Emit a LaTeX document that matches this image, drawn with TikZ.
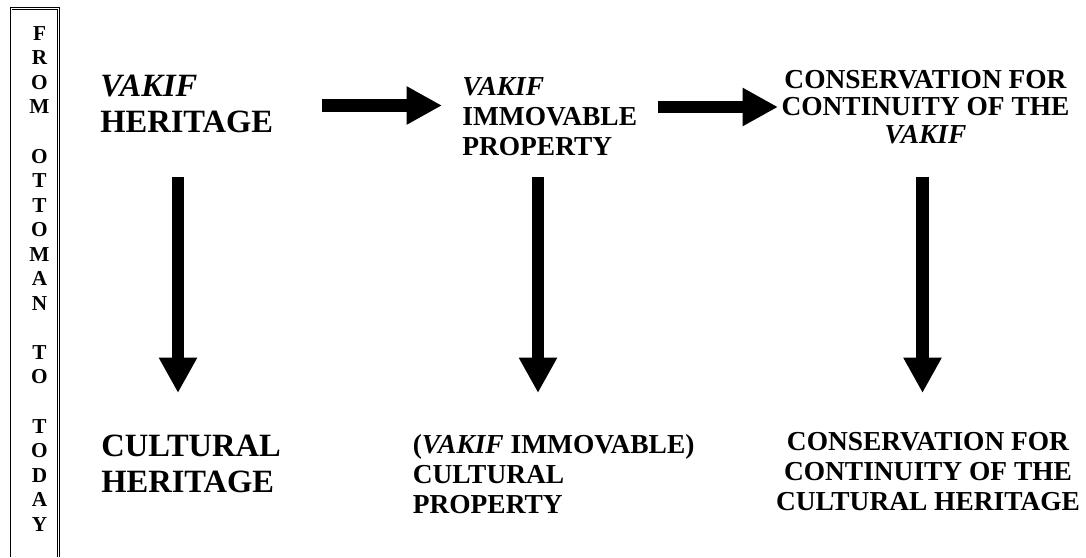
\documentclass[tikz,border=0pt]{standalone}
\usepackage{fontspec}
\setmainfont{Liberation Serif}
\usetikzlibrary{arrows.meta}

\begin{document}
\begin{tikzpicture}[
	bigarrow/.style={line width=0.25cm, -{Triangle[width=0.72cm, length=0.71cm]}},
	bigtext/.style={inner sep=0pt, align=left, font=\fontsize{18.5pt}{20.3pt}\selectfont\bfseries},
	midtext/.style={inner sep=0pt, font=\fontsize{15.6pt}{17pt}\selectfont\bfseries},
	sidetext/.style={inner sep=0pt, align=center, font=\fontsize{12.1pt}{13.97pt}\selectfont\bfseries}
]
	\useasboundingbox (0, 0) rectangle (21.72, 11.14);
	\draw [double, line width=0.4pt, double distance=0.5pt] (0.22, 0) -- (0.22, 10.97) -- (1.17, 10.97) -- (1.17, 0);
	\node [sidetext, anchor=north] (Side) at (0.79, 10.62) {F\\R\\O\\M\\~\\O\\T\\T\\O\\M\\A\\N\\~\\T\\O\\~\\T\\O\\D\\A\\Y};
	\node [bigtext, anchor=north west] (VakifHeritage) at (2.0, 9.64) {\textit{VAKIF}\\HERITAGE};
	\node [bigtext, anchor=north west] (CulturalHeritage) at (2.02, 2.44) {CULTURAL\\HERITAGE};
	\node [midtext, align=left, anchor=north west] (Immovable) at (9.24, 9.6) {\textit{VAKIF}\\IMMOVABLE\\PROPERTY};
	\node [midtext, align=left, anchor=north west] (CulturalProperty) at (8.25, 2.46) {(\textit{VAKIF} IMMOVABLE)\\CULTURAL\\PROPERTY};
	\node [midtext, align=center, anchor=north, font=\fontsize{15.6pt}{15.6pt}\selectfont\bfseries] (ConsVakif) at (18.51, 9.74) {CONSERVATION FOR\\CONTINUITY OF THE\\\textit{VAKIF}};
	\node [midtext, align=center, anchor=north] (ConsCultural) at (18.56, 2.5) {CONSERVATION FOR\\CONTINUITY OF THE\\CULTURAL HERITAGE};
	\coordinate (H1) at (6.44, 9.03);
	\coordinate (H2) at (8.84, 9.03);
	\coordinate (H3) at (13.16, 9.0);
	\coordinate (H4) at (15.56, 9.0);
	\coordinate (V1) at (3.56, 7.6);
	\coordinate (V2) at (3.56, 3.28);
	\coordinate (V3) at (10.76, 7.6);
	\coordinate (V4) at (10.76, 3.28);
	\coordinate (V5) at (18.45, 7.6);
	\coordinate (V6) at (18.45, 3.28);
	\draw [bigarrow] (H1) -- (H2);
	\draw [bigarrow] (H3) -- (H4);
	\draw [bigarrow] (V1) -- (V2);
	\draw [bigarrow] (V3) -- (V4);
	\draw [bigarrow] (V5) -- (V6);
\end{tikzpicture}
\end{document}
